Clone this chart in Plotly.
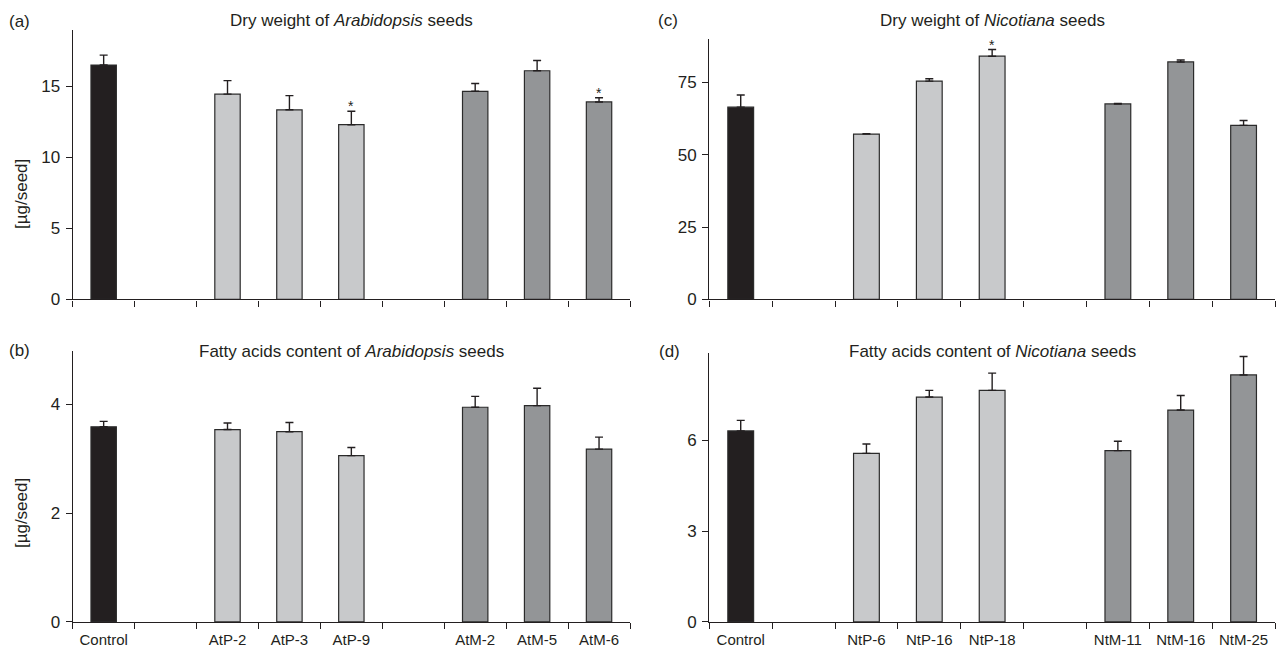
import plotly.graph_objects as go

# ---------------- data ----------------
cats_at = ["Control", " ", "AtP-2", "AtP-3", "AtP-9", "  ", "AtM-2", "AtM-5", "AtM-6"]
cats_nt = ["Control", " ", "NtP-6", "NtP-16", "NtP-18", "  ", "NtM-11", "NtM-16", "NtM-25"]

dry_at = [16.5, None, 14.45, 13.35, 12.3, None, 14.65, 16.1, 13.9]
dry_at_err = [0.7, 0, 0.95, 1.0, 0.95, 0, 0.55, 0.72, 0.3]

fa_at = [3.59, None, 3.54, 3.50, 3.06, None, 3.95, 3.98, 3.18]
fa_at_err = [0.10, 0, 0.12, 0.17, 0.15, 0, 0.20, 0.32, 0.22]

dry_nt = [66.4, None, 57.1, 75.4, 84.0, None, 67.5, 82.0, 60.1]
dry_nt_err = [4.2, 0, 0.15, 0.8, 2.3, 0, 0.15, 0.7, 1.7]

fa_nt = [6.31, None, 5.57, 7.43, 7.65, None, 5.66, 7.00, 8.16]
fa_nt_err = [0.35, 0, 0.31, 0.22, 0.57, 0, 0.31, 0.48, 0.61]

groups = ["control", None, "P", "P", "P", None, "M", "M", "M"]
group_colors = {"control": "#231f20", "P": "#c8c9cb", "M": "#939597", None: "#ffffff"}

stars_a = ["AtP-9", "AtM-6"]
stars_c = ["NtP-18"]

INK = "#231f20"
FONT = "Liberation Sans, Arial, Helvetica, sans-serif"
W, H = 1276, 658

def px_x(p):
    return p / W

def px_y(p):
    return 1 - p / H

fig = go.Figure()

panels = [
    # axis suffix, cats, values, errs, yrange, dtick, stars
    ("", cats_at, dry_at, dry_at_err, [0, 19], 5, stars_a),
    ("2", cats_nt, dry_nt, dry_nt_err, [0, 89.8], 25, stars_c),
    ("3", cats_at, fa_at, fa_at_err, [0, 4.98], 2, []),
    ("4", cats_nt, fa_nt, fa_nt_err, [0, 8.9], 3, []),
]

for suf, cats, vals, errs, yr, dt, stars in panels:
    fig.add_trace(go.Bar(
        x=cats, y=vals,
        width=0.41,
        marker=dict(color=[group_colors[g] for g in groups],
                    line=dict(color="#2b2b2b", width=1.2)),
        error_y=dict(type="data", symmetric=False, array=errs,
                     arrayminus=[0] * len(errs), color=INK,
                     thickness=1.4, width=4),
        xaxis="x" + suf, yaxis="y" + suf,
        showlegend=False, hoverinfo="skip",
    ))
    for s in stars:
        i = cats.index(s)
        fig.add_annotation(x=s, y=vals[i] + errs[i], xref="x" + suf, yref="y" + suf,
                           text="*", showarrow=False, yanchor="middle", yshift=5,
                           font=dict(size=14, color=INK, family=FONT))

# domains (pixel based)
xl = [px_x(72.7), px_x(630)]
xr = [px_x(709.3), px_x(1275)]
ya = [px_y(304), px_y(30)]
yc = [px_y(304), px_y(40)]
yb = [px_y(631.5), px_y(356.7)]
yd = [px_y(631.5), px_y(358)]

def xax(domain, anchor, labels):
    return dict(domain=domain, anchor=anchor, type="category",
                range=[-0.5, 8.5], showline=True, linecolor=INK, linewidth=1.3,
                ticks="outside", tickson="boundaries", ticklen=6, tickwidth=1.2,
                tickcolor=INK, showgrid=False, zeroline=False,
                showticklabels=labels, ticklabelstandoff=4,
                tickfont=dict(size=15, color=INK, family=FONT),
                fixedrange=True)

def yax(domain, anchor, yr, dt):
    return dict(domain=domain, anchor=anchor, range=yr, dtick=dt, tick0=0,
                showline=True, linecolor=INK, linewidth=1.3, ticks="outside",
                ticklen=6, tickwidth=1.2, tickcolor=INK, showgrid=False,
                zeroline=False, ticklabelstandoff=2,
                tickfont=dict(size=17, color=INK, family=FONT),
                fixedrange=True)

fig.update_layout(
    width=W, height=H,
    margin=dict(l=0, r=0, t=0, b=0),
    paper_bgcolor="white", plot_bgcolor="white",
    font=dict(family=FONT, color=INK),
    bargap=0.59,
    xaxis=xax(xl, "y", False),
    yaxis=yax(ya, "x", [0, 19], 5),
    xaxis2=xax(xr, "y2", False),
    yaxis2=yax(yc, "x2", [0, 89.8], 25),
    xaxis3=xax(xl, "y3", True),
    yaxis3=yax(yb, "x3", [0, 4.98], 2),
    xaxis4=xax(xr, "y4", True),
    yaxis4=yax(yd, "x4", [0, 8.9], 3),
)

# titles
titles = [
    ("Dry weight of <i>Arabidopsis</i> seeds", sum(xl) / 2, 21),
    ("Dry weight of <i>Nicotiana</i> seeds", sum(xr) / 2, 21),
    ("Fatty acids content of <i>Arabidopsis</i> seeds", sum(xl) / 2, 357),
    ("Fatty acids content of <i>Nicotiana</i> seeds", sum(xr) / 2, 357),
]
for t, x, y in titles:
    fig.add_annotation(text=t, x=x, y=px_y(y), xref="paper", yref="paper",
                       showarrow=False, xanchor="center", yanchor="middle",
                       font=dict(size=17, color=INK, family=FONT))

# panel letters
letters = [("(a)", 20, 22), ("(c)", 668, 21), ("(b)", 20, 356), ("(d)", 669, 357)]
for t, x, y in letters:
    fig.add_annotation(text=t, x=px_x(x), y=px_y(y), xref="paper", yref="paper",
                       showarrow=False, xanchor="center", yanchor="middle",
                       font=dict(size=17, color=INK, family=FONT))

# y-axis titles
for y in (197, 521):
    fig.add_annotation(text="[µg/seed]", x=px_x(21), y=px_y(y), xref="paper", yref="paper",
                       showarrow=False, textangle=-90, xanchor="center", yanchor="middle",
                       font=dict(size=17, color=INK, family=FONT))

fig.write_html("out.html")
